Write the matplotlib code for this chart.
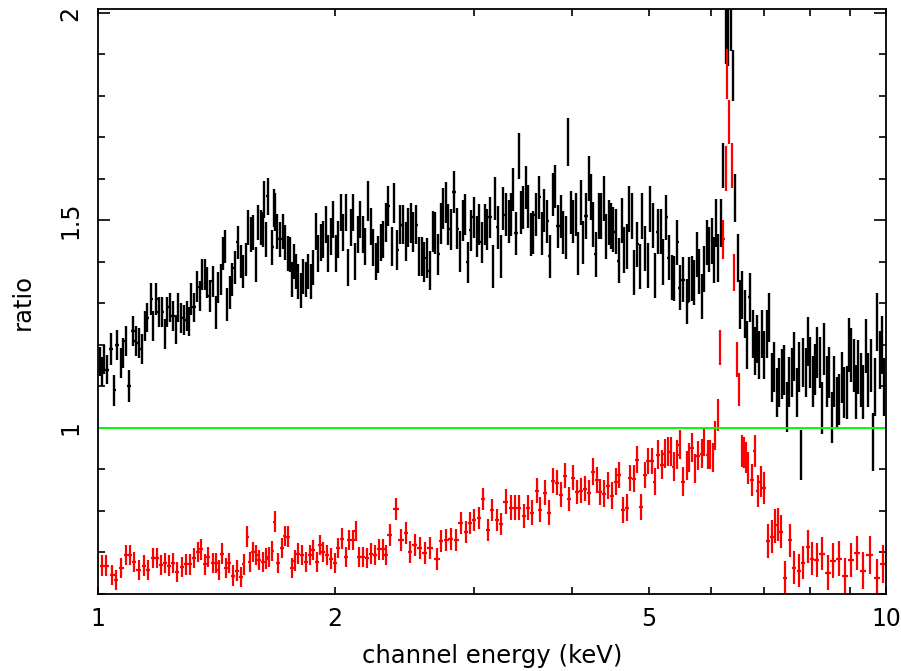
import numpy as np
import matplotlib
matplotlib.use("Agg")
import matplotlib.pyplot as plt
from matplotlib.ticker import FixedLocator, FixedFormatter, MultipleLocator, NullFormatter

# data group 1 (black): channel energy (keV), data/model ratio, 1-sigma error
e_blk = [1.006, 1.012, 1.018, 1.027, 1.039, 1.048, 1.057, 1.070, 1.076, 1.085,
         1.095, 1.108, 1.117, 1.127, 1.137, 1.147, 1.154, 1.168, 1.174, 1.185,
         1.195, 1.206, 1.216, 1.223, 1.234, 1.245, 1.256, 1.263, 1.275, 1.286,
         1.297, 1.305, 1.312, 1.324, 1.336, 1.347, 1.355, 1.367, 1.375, 1.387,
         1.399, 1.412, 1.420, 1.433, 1.441, 1.449, 1.458, 1.471, 1.479, 1.492,
         1.505, 1.519, 1.528, 1.541, 1.550, 1.564, 1.573, 1.587, 1.596, 1.610,
         1.620, 1.624, 1.634, 1.643, 1.663, 1.672, 1.677, 1.687, 1.702, 1.717,
         1.727, 1.742, 1.753, 1.763, 1.773, 1.784, 1.794, 1.810, 1.820, 1.836,
         1.847, 1.863, 1.874, 1.891, 1.902, 1.919, 1.930, 1.947, 1.958, 1.976,
         1.987, 2.005, 2.016, 2.034, 2.046, 2.064, 2.076, 2.094, 2.107, 2.119,
         2.138, 2.150, 2.169, 2.182, 2.201, 2.220, 2.234, 2.253, 2.266, 2.286,
         2.300, 2.320, 2.334, 2.361, 2.375, 2.396, 2.417, 2.438, 2.460, 2.474,
         2.496, 2.510, 2.533, 2.555, 2.577, 2.592, 2.615, 2.638, 2.662, 2.677,
         2.701, 2.724, 2.740, 2.765, 2.781, 2.805, 2.830, 2.855, 2.880, 2.905,
         2.922, 2.948, 2.974, 3.000, 3.027, 3.044, 3.071, 3.098, 3.116, 3.144,
         3.172, 3.190, 3.218, 3.247, 3.266, 3.294, 3.323, 3.343, 3.362, 3.392,
         3.422, 3.442, 3.462, 3.493, 3.513, 3.544, 3.565, 3.596, 3.628, 3.660,
         3.681, 3.714, 3.746, 3.779, 3.801, 3.835, 3.869, 3.891, 3.926, 3.949,
         3.983, 4.007, 4.042, 4.066, 4.101, 4.125, 4.162, 4.199, 4.223, 4.248,
         4.285, 4.323, 4.348, 4.387, 4.412, 4.451, 4.477, 4.503, 4.543, 4.583,
         4.623, 4.651, 4.692, 4.719, 4.761, 4.788, 4.831, 4.873, 4.902, 4.945,
         4.988, 5.018, 5.062, 5.091, 5.136, 5.182, 5.212, 5.258, 5.304, 5.351,
         5.382, 5.430, 5.477, 5.526, 5.591, 5.623, 5.673, 5.706, 5.756, 5.790,
         5.841, 5.875, 5.927, 5.962, 6.014, 6.049, 6.085, 6.121, 6.174, 6.211,
         6.265, 6.302, 6.358, 6.395, 6.432, 6.489, 6.527, 6.565, 6.623, 6.662,
         6.720, 6.780, 6.819, 6.859, 6.900, 6.960, 7.001, 7.063, 7.104, 7.167,
         7.209, 7.272, 7.315, 7.379, 7.422, 7.488, 7.532, 7.598, 7.642, 7.710,
         7.755, 7.800, 7.846, 7.915, 7.962, 8.008, 8.079, 8.126, 8.174, 8.246,
         8.294, 8.343, 8.416, 8.466, 8.540, 8.590, 8.666, 8.717, 8.793, 8.845,
         8.923, 8.975, 9.028, 9.107, 9.160, 9.214, 9.295, 9.350, 9.432, 9.487,
         9.571, 9.627, 9.683, 9.740, 9.826, 9.883, 9.941]
r_blk = [1.16, 1.135, 1.165, 1.14, 1.19, 1.09, 1.20, 1.157, 1.18, 1.21,
         1.10, 1.234, 1.21, 1.205, 1.19, 1.245, 1.265, 1.31, 1.245, 1.31,
         1.28, 1.28, 1.225, 1.28, 1.29, 1.27, 1.237, 1.29, 1.265, 1.26,
         1.27, 1.256, 1.31, 1.29, 1.34, 1.317, 1.37, 1.37, 1.35, 1.317,
         1.353, 1.278, 1.338, 1.357, 1.42, 1.437, 1.297, 1.326, 1.357, 1.386,
         1.447, 1.40, 1.377, 1.405, 1.483, 1.466, 1.47, 1.394, 1.495, 1.483,
         1.478, 1.55, 1.454, 1.558, 1.435, 1.53, 1.52, 1.473, 1.454, 1.473,
         1.447, 1.42, 1.418, 1.357, 1.40, 1.377, 1.353, 1.33, 1.365, 1.357,
         1.377, 1.353, 1.386, 1.473, 1.42, 1.447, 1.454, 1.49, 1.42, 1.461,
         1.502, 1.42, 1.454, 1.519, 1.47, 1.519, 1.386, 1.483, 1.519, 1.40,
         1.466, 1.502, 1.466, 1.437, 1.546, 1.485, 1.435, 1.40, 1.418, 1.447,
         1.454, 1.495, 1.534, 1.437, 1.541, 1.428, 1.49, 1.49, 1.449, 1.483,
         1.493, 1.471, 1.49, 1.413, 1.413, 1.399, 1.41, 1.379, 1.473, 1.47,
         1.418, 1.493, 1.529, 1.543, 1.49, 1.478, 1.568, 1.48, 1.425, 1.50,
         1.514, 1.399, 1.476, 1.507, 1.461, 1.49, 1.447, 1.49, 1.478, 1.507,
         1.389, 1.553, 1.483, 1.413, 1.529, 1.514, 1.498, 1.514, 1.575, 1.469,
         1.655, 1.519, 1.531, 1.58, 1.534, 1.466, 1.47, 1.514, 1.556, 1.469,
         1.524, 1.498, 1.413, 1.563, 1.582, 1.486, 1.51, 1.471, 1.459, 1.688,
         1.519, 1.498, 1.514, 1.42, 1.543, 1.447, 1.51, 1.601, 1.556, 1.49,
         1.418, 1.51, 1.51, 1.553, 1.461, 1.495, 1.486, 1.478, 1.473, 1.403,
         1.50, 1.428, 1.437, 1.527, 1.51, 1.374, 1.442, 1.389, 1.51, 1.432,
         1.391, 1.527, 1.488, 1.367, 1.473, 1.473, 1.399, 1.507, 1.41, 1.362,
         1.36, 1.447, 1.338, 1.357, 1.304, 1.357, 1.36, 1.35, 1.418, 1.377,
         1.316, 1.382, 1.447, 1.43, 1.45, 1.405, 1.493, 1.41, 1.493, 1.633,
         1.947, 1.942, 1.978, 1.85, 1.553, 1.41, 1.297, 1.321, 1.275, 1.20,
         1.314, 1.225, 1.184, 1.215, 1.176, 1.225, 1.176, 1.225, 1.266, 1.121,
         1.147, 1.085, 1.109, 1.13, 1.14, 1.05, 1.111, 1.133, 1.172, 1.085,
         1.147, 0.935, 1.157, 1.133, 1.208, 1.157, 1.111, 1.14, 1.181, 1.157,
         1.048, 1.19, 1.111, 1.133, 1.024, 1.111, 1.06, 1.068, 1.121, 1.085,
         1.085, 1.20, 1.176, 1.15, 1.087, 1.147, 1.116, 1.087, 1.196, 1.116,
         1.15, 0.966, 1.099, 1.256, 1.164, 1.20, 1.099]
d_blk = [0.035, 0.035, 0.035, 0.035, 0.038, 0.038, 0.036, 0.036, 0.036, 0.036,
         0.038, 0.036, 0.036, 0.036, 0.036, 0.036, 0.035, 0.038, 0.036, 0.038,
         0.036, 0.036, 0.036, 0.036, 0.036, 0.036, 0.036, 0.036, 0.036, 0.036,
         0.036, 0.036, 0.038, 0.036, 0.038, 0.036, 0.038, 0.038, 0.038, 0.038,
         0.038, 0.040, 0.038, 0.038, 0.040, 0.040, 0.040, 0.040, 0.040, 0.040,
         0.040, 0.040, 0.040, 0.040, 0.042, 0.042, 0.042, 0.042, 0.042, 0.042,
         0.042, 0.045, 0.042, 0.045, 0.042, 0.045, 0.045, 0.042, 0.042, 0.042,
         0.042, 0.042, 0.042, 0.042, 0.042, 0.042, 0.042, 0.042, 0.042, 0.042,
         0.042, 0.042, 0.042, 0.045, 0.045, 0.045, 0.045, 0.045, 0.045, 0.045,
         0.045, 0.045, 0.045, 0.045, 0.045, 0.045, 0.045, 0.045, 0.045, 0.045,
         0.045, 0.045, 0.045, 0.045, 0.048, 0.045, 0.045, 0.045, 0.045, 0.045,
         0.045, 0.048, 0.048, 0.048, 0.048, 0.048, 0.048, 0.048, 0.048, 0.048,
         0.048, 0.048, 0.048, 0.048, 0.048, 0.048, 0.048, 0.048, 0.050, 0.050,
         0.050, 0.050, 0.050, 0.050, 0.050, 0.050, 0.050, 0.050, 0.050, 0.050,
         0.050, 0.050, 0.050, 0.050, 0.050, 0.050, 0.050, 0.050, 0.050, 0.050,
         0.052, 0.052, 0.052, 0.052, 0.052, 0.052, 0.052, 0.052, 0.052, 0.052,
         0.055, 0.052, 0.052, 0.052, 0.052, 0.052, 0.052, 0.052, 0.052, 0.052,
         0.052, 0.052, 0.052, 0.052, 0.052, 0.052, 0.052, 0.052, 0.052, 0.058,
         0.052, 0.052, 0.052, 0.052, 0.055, 0.052, 0.055, 0.055, 0.055, 0.055,
         0.055, 0.055, 0.055, 0.055, 0.055, 0.055, 0.055, 0.055, 0.055, 0.055,
         0.055, 0.055, 0.055, 0.055, 0.055, 0.055, 0.055, 0.055, 0.055, 0.055,
         0.055, 0.055, 0.055, 0.055, 0.055, 0.055, 0.055, 0.055, 0.055, 0.055,
         0.055, 0.055, 0.055, 0.055, 0.055, 0.055, 0.055, 0.055, 0.055, 0.055,
         0.055, 0.055, 0.055, 0.055, 0.055, 0.055, 0.058, 0.058, 0.058, 0.054,
         0.070, 0.070, 0.070, 0.062, 0.058, 0.058, 0.058, 0.058, 0.058, 0.058,
         0.058, 0.058, 0.058, 0.058, 0.058, 0.058, 0.058, 0.058, 0.060, 0.060,
         0.060, 0.060, 0.060, 0.060, 0.060, 0.060, 0.060, 0.060, 0.060, 0.060,
         0.060, 0.060, 0.060, 0.060, 0.060, 0.062, 0.062, 0.062, 0.062, 0.062,
         0.062, 0.062, 0.062, 0.062, 0.062, 0.062, 0.062, 0.062, 0.062, 0.062,
         0.065, 0.065, 0.065, 0.065, 0.065, 0.065, 0.065, 0.065, 0.065, 0.065,
         0.065, 0.070, 0.070, 0.070, 0.070, 0.070, 0.070]

# data group 2 (red)
e_red = [1.012, 1.024, 1.042, 1.054, 1.070, 1.085, 1.098, 1.111, 1.127, 1.144,
         1.157, 1.174, 1.188, 1.202, 1.216, 1.231, 1.245, 1.260, 1.278, 1.293,
         1.308, 1.324, 1.339, 1.351, 1.367, 1.379, 1.399, 1.412, 1.424, 1.437,
         1.454, 1.466, 1.484, 1.501, 1.519, 1.532, 1.546, 1.559, 1.573, 1.587,
         1.601, 1.620, 1.634, 1.648, 1.663, 1.677, 1.692, 1.712, 1.727, 1.742,
         1.763, 1.778, 1.794, 1.815, 1.836, 1.858, 1.874, 1.896, 1.913, 1.930,
         1.953, 1.976, 1.999, 2.016, 2.040, 2.064, 2.082, 2.107, 2.125, 2.144,
         2.169, 2.195, 2.220, 2.247, 2.273, 2.300, 2.320, 2.347, 2.389, 2.424,
         2.460, 2.489, 2.525, 2.562, 2.600, 2.638, 2.693, 2.724, 2.765, 2.805,
         2.847, 2.888, 2.931, 2.965, 3.000, 3.044, 3.080, 3.126, 3.162, 3.209,
         3.247, 3.294, 3.343, 3.382, 3.422, 3.472, 3.513, 3.554, 3.607, 3.638,
         3.692, 3.735, 3.779, 3.824, 3.869, 3.914, 3.960, 4.007, 4.054, 4.101,
         4.150, 4.199, 4.248, 4.298, 4.336, 4.387, 4.438, 4.490, 4.543, 4.583,
         4.637, 4.692, 4.733, 4.788, 4.831, 4.887, 4.945, 4.988, 5.047, 5.091,
         5.136, 5.197, 5.242, 5.289, 5.335, 5.382, 5.430, 5.477, 5.526, 5.591,
         5.623, 5.673, 5.723, 5.773, 5.841, 5.875, 5.944, 5.979, 6.032, 6.067,
         6.121, 6.156, 6.211, 6.265, 6.284, 6.321, 6.376, 6.413, 6.470, 6.508,
         6.565, 6.604, 6.642, 6.681, 6.760, 6.819, 6.879, 6.940, 7.001, 7.083,
         7.167, 7.230, 7.293, 7.358, 7.444, 7.554, 7.642, 7.755, 7.846, 7.962,
         8.055, 8.174, 8.294, 8.441, 8.565, 8.717, 8.871, 9.028, 9.187, 9.350,
         9.543, 9.740, 9.912]
r_red = [0.667, 0.667, 0.645, 0.633, 0.662, 0.693, 0.693, 0.676, 0.657, 0.667,
         0.657, 0.686, 0.686, 0.669, 0.674, 0.667, 0.674, 0.652, 0.664, 0.671,
         0.671, 0.686, 0.700, 0.707, 0.671, 0.688, 0.674, 0.674, 0.657, 0.696,
         0.662, 0.674, 0.643, 0.655, 0.640, 0.671, 0.737, 0.676, 0.700, 0.693,
         0.681, 0.676, 0.684, 0.688, 0.703, 0.773, 0.674, 0.710, 0.739, 0.737,
         0.662, 0.679, 0.696, 0.693, 0.676, 0.693, 0.705, 0.676, 0.717, 0.700,
         0.693, 0.684, 0.674, 0.710, 0.732, 0.688, 0.729, 0.729, 0.751, 0.688,
         0.688, 0.686, 0.696, 0.693, 0.707, 0.707, 0.693, 0.742, 0.804, 0.729,
         0.746, 0.700, 0.717, 0.710, 0.698, 0.710, 0.684, 0.727, 0.729, 0.732,
         0.729, 0.770, 0.749, 0.770, 0.778, 0.783, 0.828, 0.754, 0.802, 0.778,
         0.768, 0.821, 0.807, 0.807, 0.807, 0.787, 0.807, 0.795, 0.848, 0.802,
         0.843, 0.795, 0.872, 0.867, 0.838, 0.884, 0.828, 0.879, 0.845, 0.848,
         0.853, 0.843, 0.894, 0.874, 0.845, 0.841, 0.860, 0.836, 0.870, 0.886,
         0.802, 0.807, 0.879, 0.877, 0.923, 0.809, 0.886, 0.920, 0.920, 0.870,
         0.935, 0.911, 0.937, 0.942, 0.942, 0.906, 0.935, 0.959, 0.870, 0.908,
         0.928, 0.952, 0.901, 0.932, 0.937, 0.966, 0.935, 0.935, 0.928, 0.981,
         1.031, 1.193, 1.454, 1.626, 1.853, 1.737, 1.633, 1.374, 1.164, 1.092,
         0.944, 0.940, 0.928, 0.903, 0.874, 0.944, 0.848, 0.870, 0.855, 0.727,
         0.737, 0.763, 0.766, 0.749, 0.638, 0.729, 0.662, 0.655, 0.674, 0.713,
         0.684, 0.681, 0.696, 0.650, 0.679, 0.684, 0.643, 0.681, 0.698, 0.655,
         0.693, 0.638, 0.671]
d_red = [0.025, 0.025, 0.025, 0.025, 0.025, 0.025, 0.025, 0.025, 0.025, 0.025,
         0.025, 0.025, 0.025, 0.025, 0.025, 0.025, 0.025, 0.025, 0.025, 0.025,
         0.025, 0.025, 0.025, 0.025, 0.025, 0.025, 0.025, 0.025, 0.025, 0.025,
         0.025, 0.025, 0.025, 0.025, 0.025, 0.025, 0.025, 0.025, 0.025, 0.025,
         0.025, 0.025, 0.025, 0.025, 0.025, 0.025, 0.025, 0.025, 0.025, 0.025,
         0.025, 0.025, 0.025, 0.025, 0.025, 0.025, 0.025, 0.025, 0.025, 0.025,
         0.025, 0.025, 0.025, 0.025, 0.025, 0.025, 0.025, 0.025, 0.025, 0.025,
         0.025, 0.025, 0.025, 0.025, 0.025, 0.025, 0.025, 0.027, 0.027, 0.027,
         0.027, 0.027, 0.027, 0.027, 0.027, 0.027, 0.027, 0.027, 0.027, 0.027,
         0.027, 0.027, 0.027, 0.027, 0.027, 0.027, 0.027, 0.027, 0.027, 0.027,
         0.027, 0.030, 0.030, 0.030, 0.030, 0.030, 0.030, 0.030, 0.030, 0.030,
         0.030, 0.030, 0.030, 0.030, 0.030, 0.030, 0.030, 0.030, 0.030, 0.030,
         0.030, 0.030, 0.032, 0.032, 0.032, 0.032, 0.032, 0.032, 0.032, 0.032,
         0.032, 0.032, 0.032, 0.032, 0.032, 0.032, 0.032, 0.032, 0.032, 0.032,
         0.035, 0.035, 0.035, 0.035, 0.035, 0.035, 0.035, 0.035, 0.035, 0.035,
         0.035, 0.035, 0.035, 0.035, 0.035, 0.035, 0.035, 0.035, 0.035, 0.035,
         0.038, 0.042, 0.048, 0.054, 0.060, 0.054, 0.054, 0.045, 0.042, 0.040,
         0.038, 0.038, 0.038, 0.038, 0.038, 0.038, 0.038, 0.038, 0.038, 0.040,
         0.040, 0.040, 0.040, 0.040, 0.040, 0.040, 0.040, 0.040, 0.040, 0.040,
         0.040, 0.040, 0.040, 0.042, 0.042, 0.042, 0.042, 0.042, 0.042, 0.045,
         0.045, 0.045, 0.045]


def half_bin(e):
    # half width of each channel bin, from the spacing of neighbouring channels
    e = np.asarray(e)
    return np.gradient(e) / 2.0


fig = plt.figure(figsize=(9.01, 6.71), dpi=100)
ax = fig.add_axes([98 / 901, 1 - 594 / 671, 788 / 901, 585 / 671])

ax.errorbar(e_blk, r_blk, yerr=d_blk, xerr=half_bin(e_blk), fmt="none",
            ecolor="black", elinewidth=1.7, capsize=0)
ax.errorbar(e_red, r_red, yerr=d_red, xerr=half_bin(e_red), fmt="none",
            ecolor="#ff0000", elinewidth=1.6, capsize=0)
ax.axhline(1.0, color="#00ff00", lw=1.4)

ax.set_xscale("log")
ax.set_xlim(1, 10)
ax.set_ylim(0.599, 2.0097)

ax.xaxis.set_major_locator(FixedLocator([1, 2, 5, 10]))
ax.xaxis.set_major_formatter(FixedFormatter(["1", "2", "5", "10"]))
ax.xaxis.set_minor_locator(FixedLocator([3, 4, 6, 7, 8, 9]))
ax.xaxis.set_minor_formatter(NullFormatter())
ax.yaxis.set_major_locator(FixedLocator([1.0, 1.5, 2.0]))
ax.yaxis.set_major_formatter(FixedFormatter(["1", "1.5", "2"]))
ax.yaxis.set_minor_locator(MultipleLocator(0.1))

ax.tick_params(which="both", direction="in", top=True, right=True,
               width=1.2, labelsize=17, color="black")
ax.tick_params(axis="x", which="both", length=4.8, pad=9)
ax.tick_params(axis="y", which="major", length=8.8, pad=11, labelrotation=90)
ax.tick_params(axis="y", which="minor", length=5)
for lab in ax.get_yticklabels():
    lab.set_va("center")

for s in ax.spines.values():
    s.set_linewidth(1.3)

ax.set_xlabel("channel energy (keV)", fontsize=17.5, labelpad=10)
ax.set_ylabel("ratio", fontsize=17.5, labelpad=17)

fig.savefig("out.png", dpi=100)
